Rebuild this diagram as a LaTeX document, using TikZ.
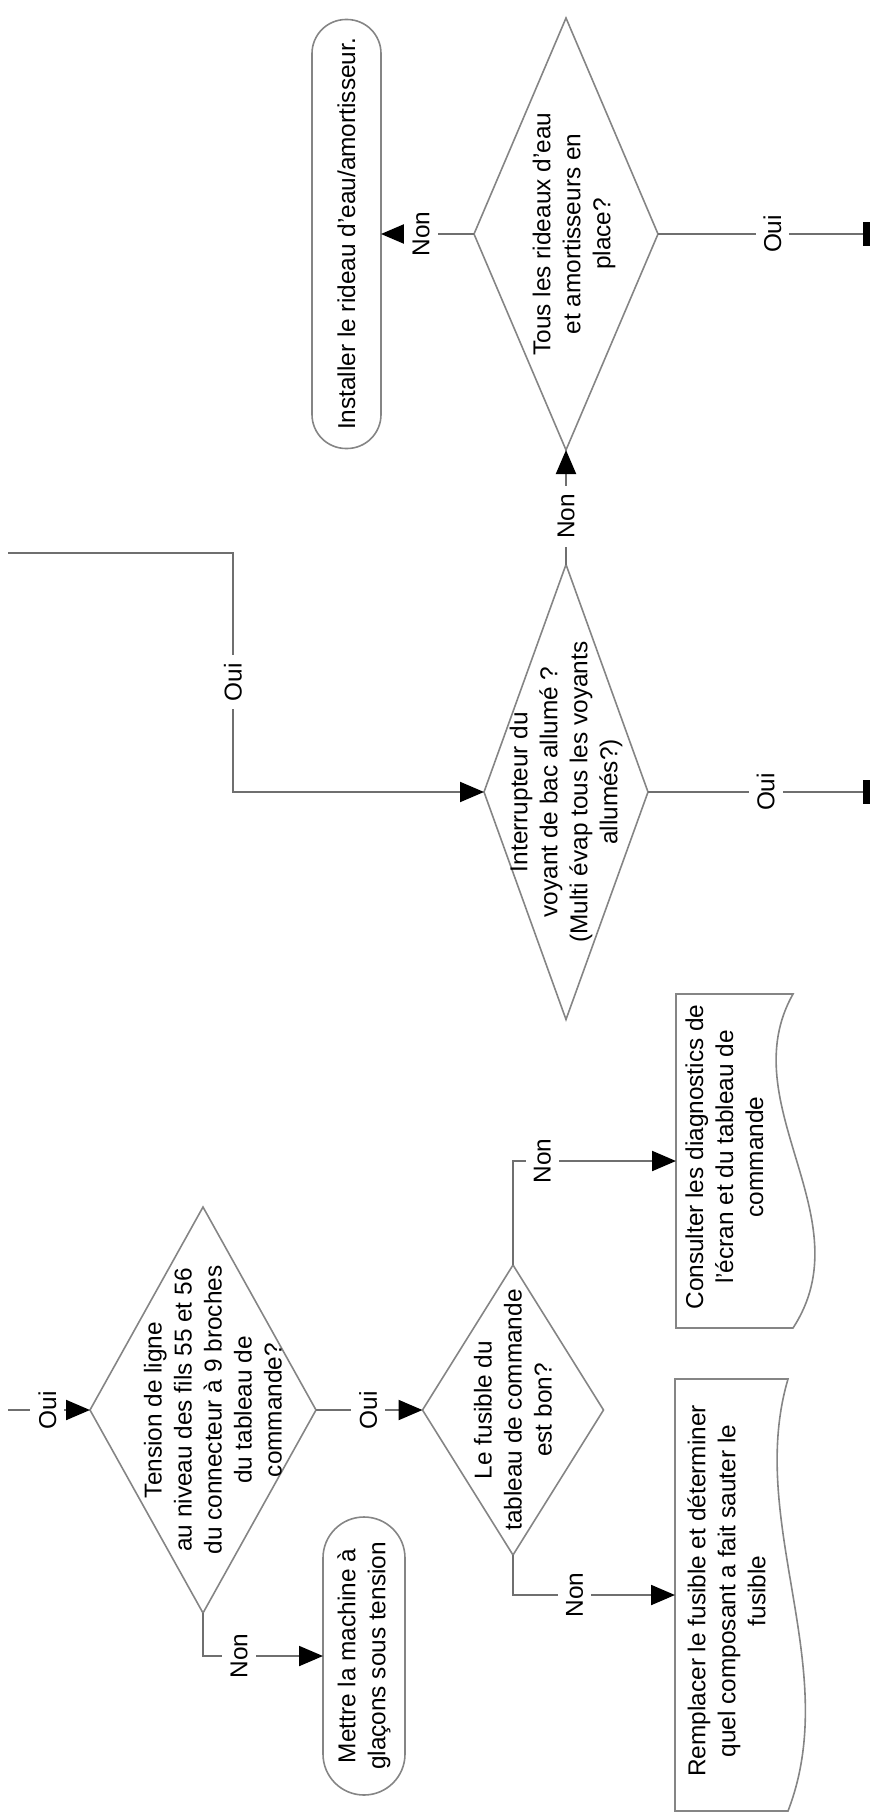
\documentclass[tikz,border=0pt]{standalone}
\usepackage{fontspec}
\setmainfont{Liberation Sans}
\usetikzlibrary{arrows.meta, shapes.geometric, calc}
\definecolor{mGrey}{HTML}{858585}
\definecolor{mLine}{HTML}{6F6F6F}
\newcommand{\flowfont}{\fontsize{24.4}{30}\selectfont}

\tikzset{
  dec/.style={diamond, draw=mGrey, line width=1.6pt, inner sep=0pt, outer sep=0pt},
  term/.style={rectangle, draw=mGrey, line width=1.6pt, rounded corners=#1, inner sep=0pt, outer sep=0pt},
  docbox/.style={rectangle, inner sep=0pt, outer sep=0pt},
  outline/.style={draw=mGrey, line width=1.6pt},
  txt/.style={rotate=90, align=center, font=\flowfont, inner sep=0pt},
  conn/.style={draw=mLine, line width=2pt},
  arr/.style={conn, -{Triangle[length=24pt, width=20pt, color=black]}},
  stop/.style={conn, -{Bar[width=24pt, line width=7pt, color=black]}},
  tag/.style={rotate=90, font=\flowfont, fill=white, inner sep=8pt},
}

\begin{document}
\begin{tikzpicture}[x=1pt, y=-1pt]
  \useasboundingbox (0,0) rectangle (881,1812);

  % decisions
  \node[dec, minimum width=184pt, minimum height=432pt] (rideaux) at (566,234) {};
  \node[dec, minimum width=164pt, minimum height=455pt] (voyant) at (566,792) {};
  \node[dec, minimum width=226pt, minimum height=406pt] (tension) at (203,1410) {};
  \node[dec, minimum width=181pt, minimum height=290pt] (fusible) at (513,1410) {};
  \node[txt] at ($(rideaux)+(8,0)$) {Tous les rideaux d'eau\\et amortisseurs en\\place?};
  \node[txt] at (voyant) {Interrupteur du\\voyant de bac allumé ?\\(Multi évap tous les voyants\\allumés?)};
  \node[txt] at ($(tension)+(10,0)$) {Tension de ligne\\au niveau des fils 55 et 56\\du connecteur à 9 broches\\du tableau de\\commande?};
  \node[txt] at (fusible) {Le fusible du\\tableau de commande\\est bon?};

  % end boxes
  \node[term=34pt, minimum width=69pt, minimum height=429pt] (installer) at (346.5,234) {};
  \node[term=41pt, minimum width=82pt, minimum height=278pt] (mettre) at (364,1656) {};
  \node[txt] at (installer) {Installer le rideau d'eau/amortisseur.};
  \node[txt] at (mettre) {Mettre la machine à\\glaçons sous tension};

  % documents
  \node[docbox, minimum width=117pt, minimum height=334pt] (consulter) at (734.5,1161) {};
  \node[docbox, minimum width=113pt, minimum height=432pt] (remplacer) at (731.5,1595) {};
  \draw[outline] (consulter.north west) -- (consulter.north east)
    .. controls ($(consulter.north east)!0.33!(consulter.south east)+(-62,0)$)
    and ($(consulter.north east)!0.67!(consulter.south east)+(72,0)$) .. (consulter.south east)
    -- (consulter.south west) -- cycle;
  \draw[outline] (remplacer.north west) -- (remplacer.north east)
    .. controls ($(remplacer.north east)!0.33!(remplacer.south east)+(-42,0)$)
    and ($(remplacer.north east)!0.67!(remplacer.south east)+(55,0)$) .. (remplacer.south east)
    -- (remplacer.south west) -- cycle;
  \node[txt] at ($(consulter)+(-10,-4)$) {Consulter les diagnostics de\\l'écran et du tableau de\\commande};
  \node[txt] at ($(remplacer)+(-5,-4)$) {Remplacer le fusible et déterminer\\quel composant a fait sauter le\\fusible};

  % connectors
  \coordinate (in1) at (8,553);
  \coordinate (in2) at (8,1410);
  \coordinate (end1) at (870,234);
  \coordinate (end2) at (870,792);

  \draw[arr] (rideaux.west) -- node[tag, pos=0.57] {Non} (installer.east);
  \draw[stop] (rideaux.east) -- node[tag, pos=0.54] {Oui} (end1);
  \draw[arr] (in1) -- ++(225,0) |- node[tag, pos=0.27] {Oui} (voyant.west);
  \draw[arr] (voyant.north) -- node[tag, pos=0.42] {Non} (rideaux.south);
  \draw[stop] (voyant.east) -- node[tag, pos=0.53] {Oui} (end2);
  \draw[arr] (in2) -- node[tag, pos=0.48] {Oui} (tension.west);
  \draw[arr] (tension.east) -- node[tag, pos=0.49] {Oui} (fusible.west);
  \draw[arr] (tension.south) |- node[tag, pos=0.65] {Non} (mettre.west);
  \draw[arr] (fusible.north) |- node[tag, pos=0.59] {Non} (consulter.west);
  \draw[arr] (fusible.south) |- node[tag, pos=0.69] {Non} (remplacer.west);
\end{tikzpicture}
\end{document}
